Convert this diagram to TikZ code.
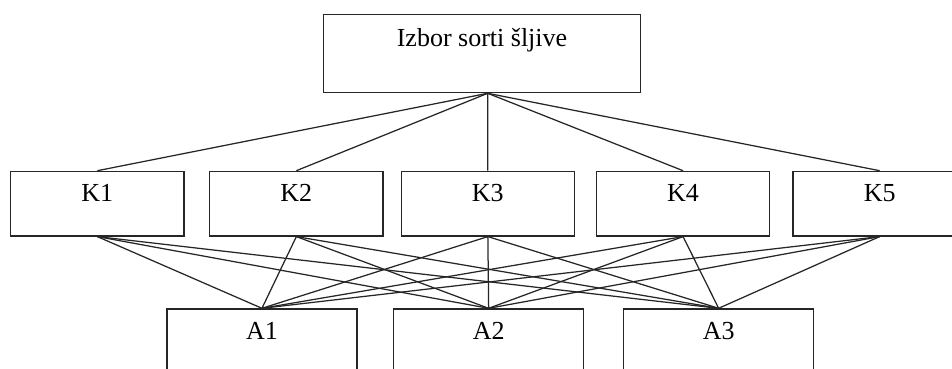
\documentclass[tikz,border=0pt]{standalone}
\usepackage{fontspec}
\setmainfont{Liberation Serif}
\begin{document}
\begin{tikzpicture}[x=1pt,y=-1pt,
  box/.style={draw=black!85, line width=1.3pt, fill=white, inner sep=0pt, anchor=north west},
  kbox/.style={box, minimum width=173.4pt, minimum height=64.6pt},
  abox/.style={box, minimum width=190pt, minimum height=90pt},
  lbl/.style={anchor=base, inner sep=0pt, font=\fontsize{26}{31}\selectfont},
  conn/.style={line width=1.25pt, draw=black!85}]
\useasboundingbox (0,0) rectangle (952,369);
\clip (0,0) rectangle (952,369);
% top box
\node[box, minimum width=317.3pt, minimum height=78pt] (top) at (322.7,14) {};
\node[lbl] (topt) at ([yshift=-32.7pt]top.north) {Izbor sorti šljive};
\coordinate (hub) at ([xshift=5.7pt]top.south);
% criteria
\node[kbox] (K1) at (10,170.7) {};
\node[kbox] (K2) at (209,170.7) {};
\node[kbox] (K3) at (400.5,170.7) {};
\node[kbox] (K4) at (595.7,170.7) {};
\node[kbox] (K5) at (792.3,170.7) {};
\foreach \k in {1,...,5}
  \node[lbl] (K\k t) at ([yshift=-30.5pt]K\k.north) {K\k};
% alternatives
\node[abox] (A1) at (166.3,308.3) {};
\node[abox] (A2) at (393,308.3) {};
\node[abox] (A3) at (623,308.3) {};
\foreach \a in {1,2,3}
  \node[lbl] (A\a t) at ([yshift=-31pt]A\a.north) {A\a};
% connectors
\foreach \k in {1,...,5}
  \draw[conn] (hub) -- (K\k.north);
\foreach \k in {1,...,5}
  \foreach \a in {1,2,3}
    \draw[conn] (K\k.south) -- (A\a.north);
\end{tikzpicture}
\end{document}
